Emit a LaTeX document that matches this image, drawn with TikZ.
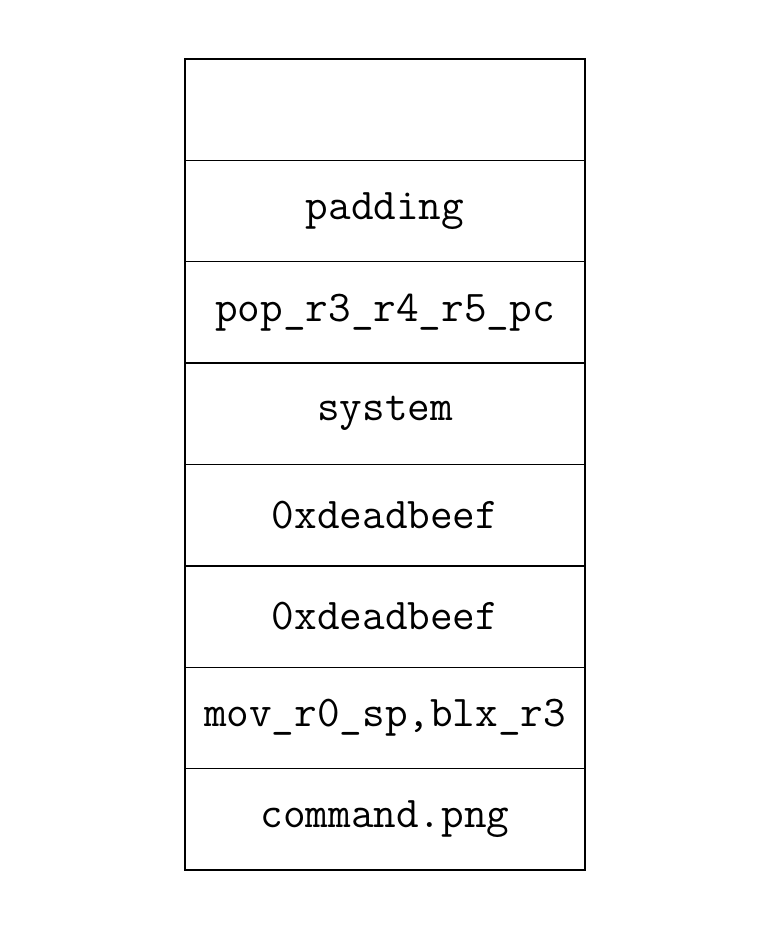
\documentclass[tikz,border=0pt]{standalone}
\usepackage{tikz}

\tikzset{
  cell/.style={draw,thick,minimum width=8cm,minimum height=2.0275cm,
    inner sep=0pt,outer sep=0pt,font=\ttfamily\fontsize{25}{29}\selectfont}
}

\begin{document}
\begin{tikzpicture}
\useasboundingbox (0,0) rectangle (15.28,18.6);
\node[cell] (c0) at (7.7,16.406) {};
\node[cell] (c1) at (7.7,14.379) {padding};
\node[cell] (c2) at (7.7,12.351) {pop\_r3\_r4\_r5\_pc};
\node[cell] (c3) at (7.7,10.324) {system};
\node[cell] (c4) at (7.7,8.296) {0xdeadbeef};
\node[cell] (c5) at (7.7,6.269) {0xdeadbeef};
\node[cell] (c6) at (7.7,4.241) {mov\_r0\_sp,blx\_r3};
\node[cell] (c7) at (7.7,2.214) {command.png};
\end{tikzpicture}
\end{document}
